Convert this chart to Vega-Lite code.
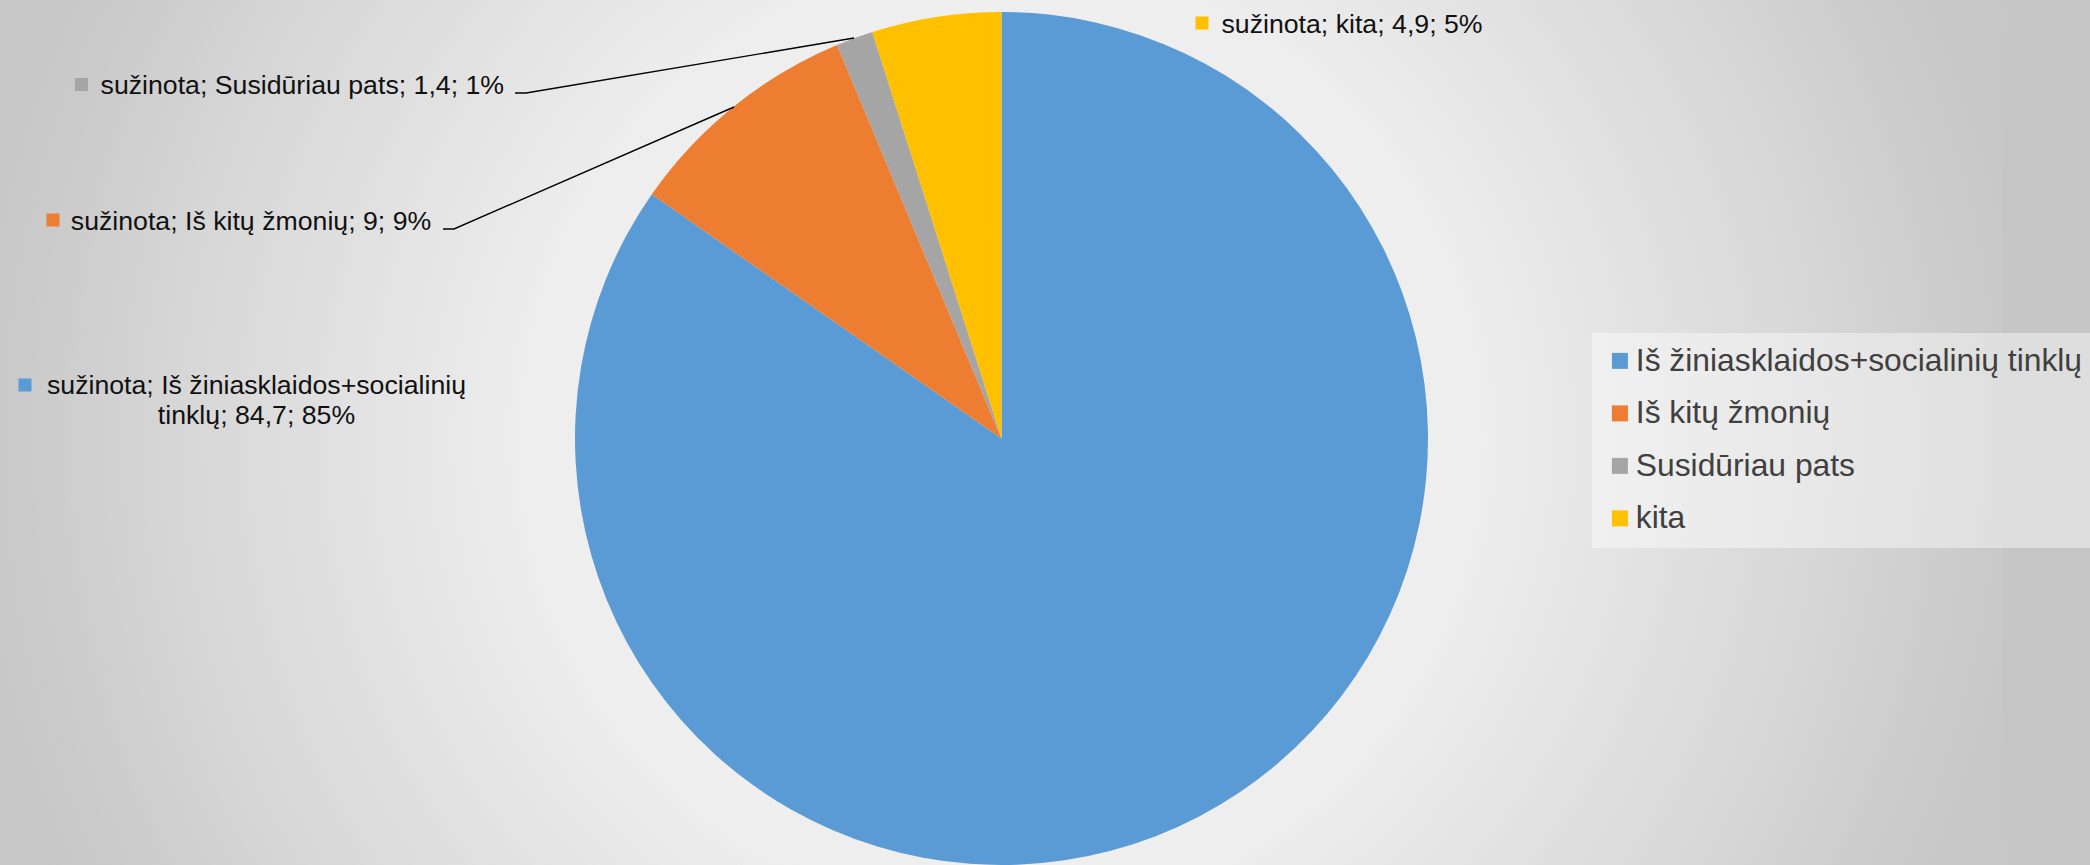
{
  "$schema": "https://vega.github.io/schema/vega-lite/v6.json",
  "width": 2003,
  "height": 877,
  "autosize": {"type": "none"},
  "padding": {"left": 0, "top": 0, "right": 87, "bottom": -12},
  "background": "#c6c6c6",
  "config": {
    "view": {
      "stroke": null,
      "fill": {
        "gradient": "radial",
        "x1": 0.5, "y1": 0.5, "r1": 0,
        "x2": 0.5, "y2": 0.5, "r2": 0.6,
        "stops": [
          {"offset": 0, "color": "#f1f1f1"},
          {"offset": 0.39, "color": "#eeeeee"},
          {"offset": 0.69, "color": "#d6d6d6"},
          {"offset": 0.83, "color": "#c9c9c9"},
          {"offset": 1, "color": "#c3c3c3"}
        ]
      }
    },
    "text": {"font": "Liberation Sans"}
  },
  "datasets": {
    "duomenys": [
      {"kategorija": "Iš žiniasklaidos+socialinių tinklų", "reiksme": 84.7, "eile": 1, "zyme": ["sužinota; Iš žiniasklaidos+socialinių", "tinklų; 84,7; 85%"]},
      {"kategorija": "Iš kitų žmonių", "reiksme": 9, "eile": 2, "zyme": "sužinota; Iš kitų žmonių; 9; 9%"},
      {"kategorija": "Susidūriau pats", "reiksme": 1.4, "eile": 3, "zyme": "sužinota; Susidūriau pats; 1,4; 1%"},
      {"kategorija": "kita", "reiksme": 4.9, "eile": 4, "zyme": "sužinota; kita; 4,9; 5%"}
    ],
    "vedliai": [
      {"kategorija": "Susidūriau pats", "id": 1},
      {"kategorija": "Susidūriau pats", "id": 2},
      {"kategorija": "Susidūriau pats", "id": 3},
      {"kategorija": "Iš kitų žmonių", "id": 4},
      {"kategorija": "Iš kitų žmonių", "id": 5},
      {"kategorija": "Iš kitų žmonių", "id": 6}
    ]
  },
  "layer": [
    {
      "data": {"name": "duomenys"},
      "mark": {"type": "arc", "outerRadius": 426.5},
      "encoding": {
        "theta": {"field": "reiksme", "type": "quantitative", "stack": true},
        "order": {"field": "eile", "type": "quantitative", "sort": "ascending"},
        "color": {
          "field": "kategorija",
          "type": "nominal",
          "scale": {
            "domain": ["Iš žiniasklaidos+socialinių tinklų", "Iš kitų žmonių", "Susidūriau pats", "kita"],
            "range": ["#5B9BD5", "#ED7D31", "#A5A5A5", "#FFC000"]
          },
          "legend": {
            "orient": "none",
            "legendX": 1592,
            "legendY": 333,
            "title": null,
            "symbolType": "square",
            "symbolSize": 256,
            "symbolStrokeWidth": 0,
            "symbolOpacity": 1,
            "labelFont": "Liberation Sans",
            "labelFontSize": 31.8,
            "labelColor": "#404040",
            "labelLimit": 0,
            "labelOffset": 0,
            "rowPadding": 19.5,
            "padding": 12,
            "fillColor": "rgba(255,255,255,0.42)"
          }
        }
      }
    },
    {
      "data": {"name": "vedliai"},
      "mark": {"type": "line", "color": "#000000", "strokeWidth": 1.4},
      "encoding": {
        "x": {"field": "id", "type": "quantitative", "axis": null,
              "scale": {"domain": [1, 2, 3, 4, 5, 6], "range": [515, 526, 854, 443, 454, 734], "nice": false, "zero": false}},
        "y": {"field": "id", "type": "quantitative", "axis": null,
              "scale": {"domain": [1, 2, 3, 4, 5, 6], "range": [93, 93, 38, 229, 229, 107], "nice": false, "zero": false}},
        "detail": {"field": "kategorija", "type": "nominal"},
        "order": {"field": "id", "type": "quantitative"}
      }
    },
    {
      "data": {"name": "duomenys"},
      "mark": {"type": "square", "size": 169, "opacity": 1, "filled": true},
      "encoding": {
        "x": {"field": "reiksme", "type": "quantitative", "axis": null,
              "scale": {"domain": [1.4, 4.9, 9, 84.7], "range": [81.5, 1202, 53, 25], "nice": false, "zero": false}},
        "y": {"field": "reiksme", "type": "quantitative", "axis": null,
              "scale": {"domain": [1.4, 4.9, 9, 84.7], "range": [84.5, 23, 220, 385], "nice": false, "zero": false}},
        "color": {"field": "kategorija", "type": "nominal", "legend": null}
      }
    },
    {
      "data": {"name": "duomenys"},
      "mark": {"type": "text", "align": "center", "baseline": "alphabetic", "fontSize": 26.7, "lineHeight": 29.5, "color": "#111111", "font": "Liberation Sans"},
      "encoding": {
        "x": {"field": "reiksme", "type": "quantitative", "axis": null,
              "scale": {"domain": [1.4, 4.9, 9, 84.7], "range": [302.3, 1352, 251, 256.5], "nice": false, "zero": false}},
        "y": {"field": "reiksme", "type": "quantitative", "axis": null,
              "scale": {"domain": [1.4, 4.9, 9, 84.7], "range": [94, 32.5, 229.5, 394], "nice": false, "zero": false}},
        "text": {"field": "zyme"}
      }
    }
  ],
  "resolve": {"scale": {"x": "independent", "y": "independent"}}
}
